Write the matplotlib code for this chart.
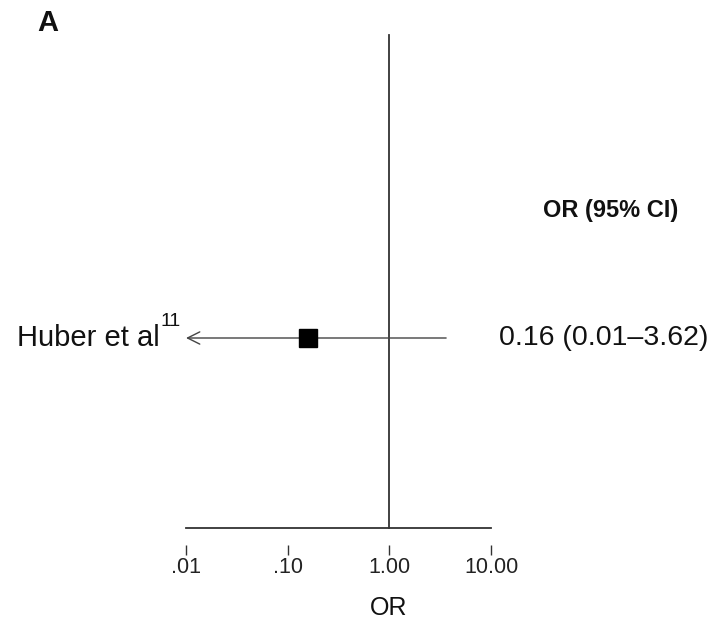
import matplotlib
matplotlib.use("Agg")
import matplotlib.pyplot as plt

plt.rcParams['font.family'] = ['Liberation Sans', 'DejaVu Sans']

# Data
studies = ["Huber et al"]
study_refs = ["11"]
odds_ratios = [0.16]
ci_lower = [0.01]
ci_upper = [3.62]
ci_labels = ["0.16 (0.01\u20133.62)"]
tick_values = [0.01, 0.1, 1.0, 10.0]
tick_labels = [".01", ".10", "1.00", "10.00"]

W, H = 709, 633
fig = plt.figure(figsize=(W / 100, H / 100), dpi=100)

def fx(px):
    return px / W

def fy(py):
    return 1 - py / H

ax = fig.add_axes([fx(186), fy(528), 305 / W, 493 / H])
ax.set_xscale('log')
ax.set_xlim(0.01, 10)
ax.set_ylim(0, 1)

line_col = '#333333'
ax.axvline(1.0, color=line_col, lw=1.3, clip_on=False)
ax.axhline(0, color=line_col, lw=1.3, clip_on=False)

study_y = [(528 - 338) / 493]

for i, (orv, lo, hi) in enumerate(zip(odds_ratios, ci_lower, ci_upper)):
    y = study_y[i]
    ax.annotate('', xy=(lo, y), xytext=(hi, y),
                arrowprops=dict(arrowstyle='->', lw=1.0, color='#444444',
                                shrinkA=0, shrinkB=0, mutation_scale=22))
    ax.plot([orv], [y], marker='s', markersize=12.5, color='black', zorder=5)

for s in ['top', 'right', 'left']:
    ax.spines[s].set_visible(False)
ax.spines['bottom'].set_position(('outward', 12.2))
ax.spines['bottom'].set_color('none')
ax.set_yticks([])
ax.set_xticks(tick_values)
ax.set_xticklabels(tick_labels)
ax.minorticks_off()
ax.tick_params(axis='x', which='major', direction='out', length=7, width=1.0,
               color=line_col, pad=1.5, labelsize=15.5, labelcolor='#222222')

# Texts
fig.text(fx(160), fy(338), studies[0], ha='right', va='center', fontsize=21, color='#111111')
fig.text(fx(161), fy(322), study_refs[0], ha='left', va='center', fontsize=14, color='#111111')
fig.text(fx(604), fy(338), ci_labels[0], ha='center', va='center', fontsize=20.5, color='#111111')
fig.text(fx(611), fy(210), "OR (95% CI)", ha='center', va='center', fontsize=17,
         fontweight='bold', color='#111111')
fig.text(fx(389), fy(608), "OR", ha='center', va='center', fontsize=18, color='#111111')
fig.text(fx(48), fy(23), "A", ha='center', va='center', fontsize=21,
         fontweight='bold', color='#111111')

fig.savefig('out.png', dpi=100, facecolor='white')
